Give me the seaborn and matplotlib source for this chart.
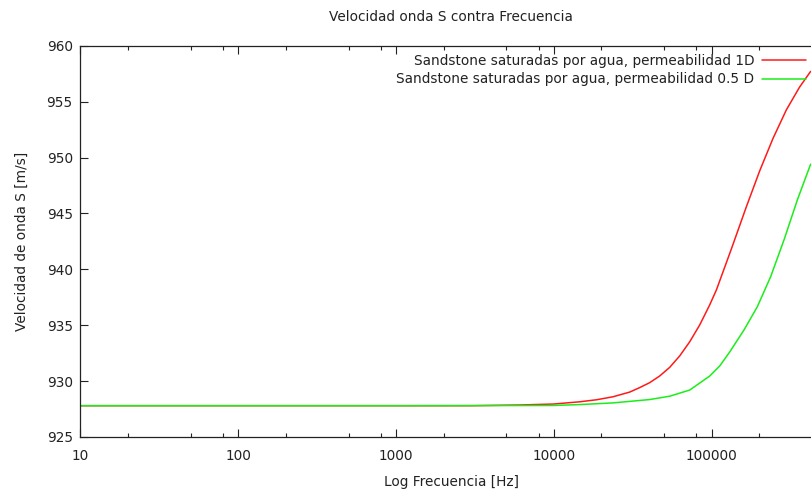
import matplotlib
matplotlib.use("Agg")
import matplotlib.pyplot as plt
from matplotlib.ticker import FixedLocator, NullFormatter
import seaborn as sns
import pandas as pd

# Shear-wave velocity vs frequency for water-saturated sandstone
freq_1d = [10, 100, 1000, 3000, 6000, 10000, 14590, 18620, 23730, 30260,
           35000, 40460, 46860, 54200, 62680, 72600, 83950, 97100, 107100,
           133900, 165900, 201400, 244500, 297000, 360600, 423500]
vel_1d = [927.8, 927.8, 927.8, 927.8, 927.86, 927.95, 928.15, 928.33, 928.6,
          929.02, 929.42, 929.86, 930.46, 931.23, 932.25, 933.52, 935.02,
          936.81, 938.15, 941.9, 945.6, 948.8, 951.7, 954.25, 956.3, 957.7]

freq_05d = [10, 100, 1000, 10000, 14590, 23730, 40460, 54200, 72600, 97100,
            112400, 130000, 160200, 194600, 236400, 287100, 348900, 423500]
vel_05d = [927.8, 927.8, 927.8, 927.82, 927.9, 928.05, 928.35, 928.65, 929.2,
           930.45, 931.35, 932.6, 934.57, 936.65, 939.34, 942.62, 946.2, 949.4]

label_1d = "Sandstone saturadas por agua, permeabilidad 1D"
label_05d = "Sandstone saturadas por agua, permeabilidad 0.5 D"

x_ticks = [10, 100, 1000, 10000, 100000]
x_ticklabels = ["10", "100", "1000", "10000", "100000"]
y_ticks = [925, 930, 935, 940, 945, 950, 955, 960]

df = pd.concat([
    pd.DataFrame({"freq": freq_1d, "vel": vel_1d, "serie": label_1d}),
    pd.DataFrame({"freq": freq_05d, "vel": vel_05d, "serie": label_05d}),
], ignore_index=True)

sns.set_theme(style="white")
plt.rcParams["font.family"] = ["DejaVu Sans"]
FS = 9.8
INK = "#222222"

W, H = 811, 493
fig = plt.figure(figsize=(W / 100, H / 100), dpi=100)
left, right, top, bottom = 80.4, 822.0, 45.7, 437.0
ax = fig.add_axes([left / W, 1 - bottom / H, (right - left) / W, (bottom - top) / H])

sns.lineplot(data=df, x="freq", y="vel", hue="serie", sort=False,
             estimator=None, palette={label_1d: "#ff1a1a", label_05d: "#1aee1a"},
             linewidth=1.1, ax=ax, legend=False)

ax.set_xscale("log")
ax.set_xlim(10, 500000)
ax.set_ylim(925, 960)
ax.set_xticks(x_ticks)
ax.set_xticklabels(x_ticklabels)
minor = [m * d for d in [10, 100, 1000, 10000, 100000] for m in (2, 5, 8)]
ax.xaxis.set_minor_locator(FixedLocator(minor))
ax.xaxis.set_minor_formatter(NullFormatter())
ax.set_yticks(y_ticks)

for s in ax.spines.values():
    s.set_color(INK)
    s.set_linewidth(0.9)

ax.tick_params(axis="both", which="major", direction="in", length=6, width=0.8,
               color=INK, labelsize=FS, labelcolor=INK,
               top=True, right=True, bottom=True, left=True)
ax.tick_params(axis="both", which="minor", direction="in", length=3, width=0.8,
               color=INK, top=True, right=True, bottom=True, left=True)
ax.tick_params(axis="x", which="major", pad=8.5)
ax.tick_params(axis="y", which="major", pad=5.5)

ax.set_xlabel("Log Frecuencia [Hz]", fontsize=FS, color=INK, labelpad=8.5)
ax.set_ylabel("Velocidad de onda S [m/s]", fontsize=FS, color=INK, labelpad=13)
fig.text(451 / W, 1 - 17 / H, "Velocidad onda S contra Frecuencia",
         ha="center", va="center", fontsize=FS, color=INK)

handles = ax.get_lines()[:2]
ax.legend(handles, [label_1d, label_05d], loc="upper right",
          bbox_to_anchor=(806 / W, 1 - 54 / H), bbox_transform=fig.transFigure,
          frameon=False, markerfirst=False, fontsize=FS, handlelength=3.2,
          handletextpad=0.6, labelspacing=0.33, borderpad=0, borderaxespad=0,
          labelcolor=INK)

fig.savefig("out.png", dpi=100)
